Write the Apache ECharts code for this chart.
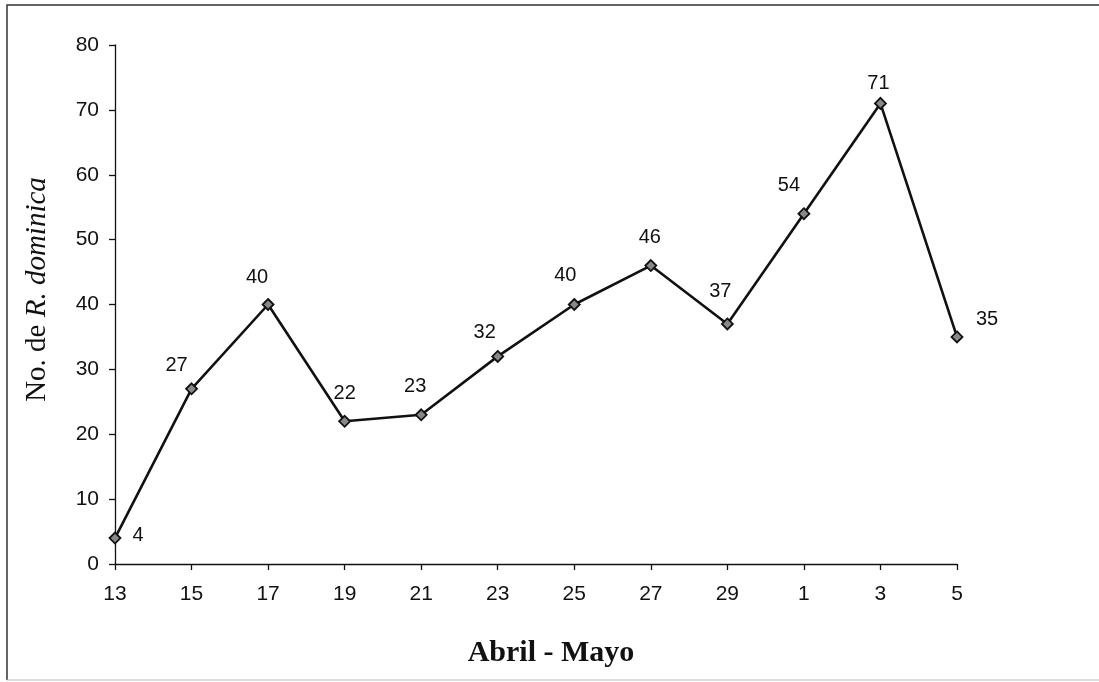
<!DOCTYPE html>
<html>
<head>
<meta charset="utf-8">
<script src="https://cdn.jsdelivr.net/npm/echarts@6/dist/echarts.min.js"></script>
<style>
  html, body { margin: 0; padding: 0; background: #fff; }
  #chart { width: 1099px; height: 682px; }
</style>
</head>
<body>
<div id="chart"></div>
<script>
// Days of sampling, April through May
const days = ['13', '15', '17', '19', '21', '23', '25', '27', '29', '1', '3', '5'];
// Number of R. dominica caught per date
const counts = [4, 27, 40, 22, 23, 32, 40, 46, 37, 54, 71, 35];
// Y axis range and step
const yMin = 0, yMax = 80, yStep = 10;

// Where each value label sits relative to its marker (dx, dy in px)
const labelShift = [
  [23, -3], [-15, -23], [-11, -27], [0, -28], [-6, -28], [-13, -24],
  [-9, -29], [-1, -28], [-7, -32], [-15, -28], [-2, -20], [30, -17]
];

const chart = echarts.init(document.getElementById('chart'), null, { renderer: 'canvas' });

const seriesData = counts.map((v, i) => ({
  value: v,
  label: { offset: labelShift[i] }
}));

const sans = 'Arial, "Liberation Sans", sans-serif';
const serif = '"Liberation Serif", "DejaVu Serif", serif';

chart.setOption({
  animation: false,
  backgroundColor: '#ffffff',
  grid: { left: 115, right: 142, top: 45, bottom: 118, containLabel: false },
  xAxis: {
    type: 'category',
    data: days,
    boundaryGap: false,
    name: 'Abril - Mayo',
    nameLocation: 'middle',
    nameGap: 74,
    nameTextStyle: {
      fontFamily: serif,
      fontWeight: 'bold',
      fontSize: 30,
      color: '#111',
      padding: [0, 0, 0, 30]
    },
    axisLine: { show: true, lineStyle: { color: '#111', width: 1.3 } },
    axisTick: { show: true, inside: false, length: 6, lineStyle: { color: '#111', width: 1.3 } },
    axisLabel: { margin: 20, fontFamily: sans, fontSize: 21, color: '#111' },
    splitLine: { show: false }
  },
  yAxis: {
    type: 'value',
    min: yMin,
    max: yMax,
    interval: yStep,
    name: '{n|No. de }{i|R. dominica}',
    nameLocation: 'middle',
    nameGap: 63,
    nameRotate: 90,
    nameTextStyle: {
      padding: [0, 0, 0, 30],
      rich: {
        n: { fontFamily: serif, fontSize: 29, color: '#111' },
        i: { fontFamily: serif, fontStyle: 'italic', fontSize: 29, color: '#111' }
      }
    },
    axisLine: { show: true, lineStyle: { color: '#111', width: 1.3 } },
    axisTick: { show: true, inside: false, length: 6, lineStyle: { color: '#111', width: 1.3 } },
    axisLabel: { margin: 16, fontFamily: sans, fontSize: 21, color: '#111' },
    splitLine: { show: false }
  },
  series: [{
    type: 'line',
    data: seriesData,
    symbol: 'diamond',
    symbolSize: 11,
    showAllSymbol: true,
    lineStyle: { color: '#111', width: 2.6 },
    itemStyle: { color: '#888', borderColor: '#111', borderWidth: 1.8 },
    label: { show: true, position: 'inside', fontFamily: sans, fontSize: 20, color: '#111' },
    emphasis: { disabled: true }
  }],
  graphic: [
    // outer frame: dark on top and left, faint along the bottom
    { type: 'polyline', shape: { points: [[7, 680], [7, 5], [1099, 5]] }, style: { stroke: '#333', lineWidth: 1.5, fill: null }, silent: true },
    { type: 'line', shape: { x1: 7, y1: 680, x2: 1099, y2: 680 }, style: { stroke: '#bbb', lineWidth: 1 }, silent: true }
  ]
});
</script>
</body>
</html>
